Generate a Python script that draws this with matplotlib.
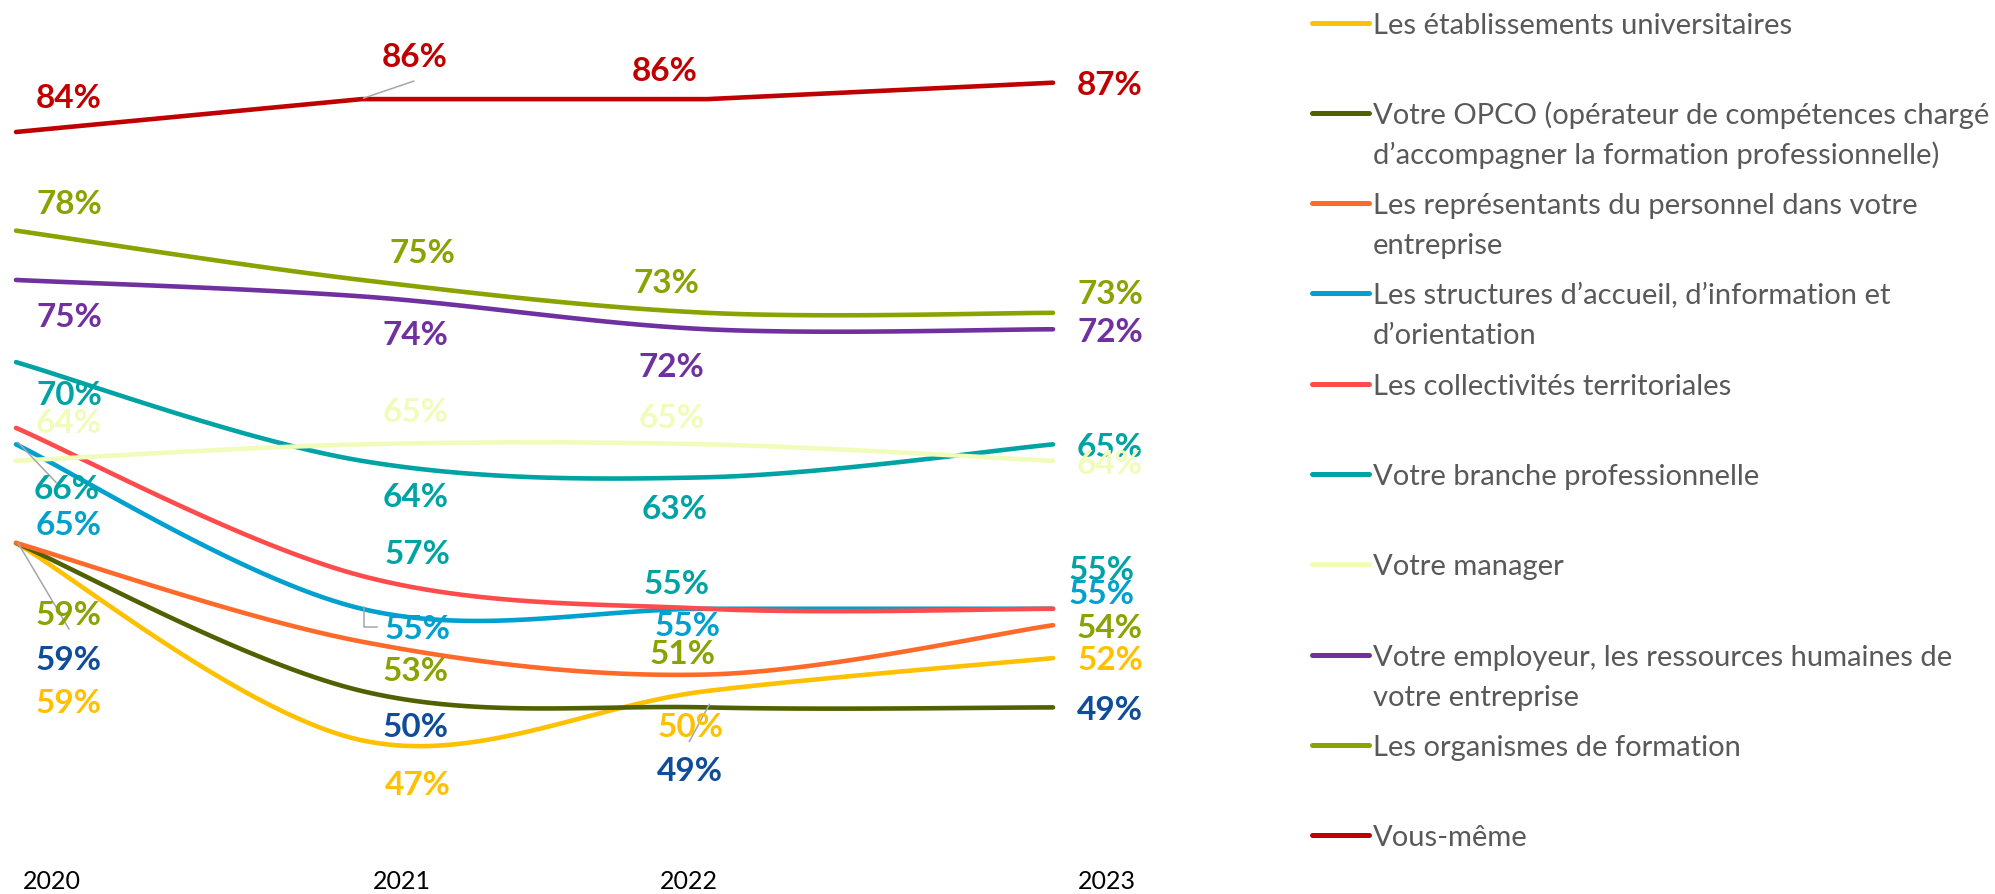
import numpy as np
import matplotlib.pyplot as plt
from matplotlib.lines import Line2D

plt.rcParams['font.family'] = ['Lato', 'DejaVu Sans']

years = ["2020", "2021", "2022", "2023"]

series_names = [
    "Les établissements universitaires",
    "Votre OPCO (opérateur de compétences chargé\nd’accompagner la formation professionnelle)",
    "Les représentants du personnel dans votre\nentreprise",
    "Les structures d’accueil, d’information et\nd’orientation",
    "Les collectivités territoriales",
    "Votre branche professionnelle",
    "Votre manager",
    "Votre employeur, les ressources humaines de\nvotre entreprise",
    "Les organismes de formation",
    "Vous-même",
]

universitaires = [59, 47, 50, 52]
opco = [59, 50, 49, 49]
representants = [59, 53, 51, 54]
structures = [65, 55, 55, 55]
collectivites = [66, 57, 55, 55]
branche = [70, 64, 63, 65]
manager = [64, 65, 65, 64]
employeur = [75, 74, 72, 72]
organismes = [78, 75, 73, 73]
vous_meme = [84, 86, 86, 87]

values = [universitaires, opco, representants, structures, collectivites,
          branche, manager, employeur, organismes, vous_meme]

line_colors = ["#FFC000", "#4F6100", "#FF6A2A", "#00A0CF", "#FF4B4B",
               "#00A3A3", "#F1FCBA", "#7030A0", "#8AA300", "#C00000"]
# the data labels in the original do not always use the line colour
label_colors = ["#FFC000", "#0F4C9A", "#8AA300", "#00A0CF", "#00A3A3",
                "#00A3A3", "#F1FCBA", "#7030A0", "#8AA300", "#C00000"]
# "Vous-même" is drawn with straight segments, the others are smoothed
smoothed = [True] * 9 + [False]

# label offsets in pixels (dx right, dy down) from each point
label_offsets = [
    [(53, 159), (56, 44), (-17, 36), (57, 1)],
    [(53, 116), (54, 36), (-17, 63), (57, 2)],
    [(53, 71), (54, 29), (-25, -21), (57, 2)],
    [(53, 80), (56, 20), (-20, 17), (49, -15)],
    [(51, 61), (56, -22), (-31, -25), (49, -39)],
    [(53, 32), (54, 36), (-33, 31), (57, 2)],
    [(53, -38), (54, -33), (-36, -27), (57, 3)],
    [(53, 37), (54, 38), (-36, 37), (57, 2)],
    [(53, -27), (61, -27), (-41, -30), (57, -19)],
    [(53, -35), (53, -43), (-43, -29), (57, 2)],
]

# leader lines: (series, point, pixel path from the point)
leaders = [
    (9, 1, [(2, -1), (52, -18)]),
    (3, 0, [(2, -2), (40, 38)]),
    (2, 0, [(2, 0), (53, 86)]),
    (3, 1, [(2, -2), (2, 18), (15, 18)]),
    (1, 2, [(2, -3), (-18, 34)]),
]


def smooth(y, n=40):
    # Catmull-Rom style bezier, like Excel smoothed lines
    x = np.arange(len(y), dtype=float)
    p = np.column_stack([x, np.asarray(y, float)])
    ext = np.vstack([p[0], p, p[-1]])
    out = []
    t = np.linspace(0, 1, n)[:, None]
    for i in range(len(p) - 1):
        p0, p1, p2, p3 = ext[i], ext[i + 1], ext[i + 2], ext[i + 3]
        c1 = p1 + (p2 - p0) / 6
        c2 = p2 - (p3 - p1) / 6
        seg = ((1 - t) ** 3) * p1 + 3 * ((1 - t) ** 2) * t * c1 + 3 * (1 - t) * t ** 2 * c2 + t ** 3 * p2
        out.append(seg if i == 0 else seg[1:])
    out = np.vstack(out)
    return out[:, 0], out[:, 1]


fig = plt.figure(figsize=(19.95, 8.95), dpi=100)
ax = fig.add_axes([0, 0, 1, 1])
ax.set_xlim(-0.0463, 5.725)
ax.set_ylim(37.65, 92.09)
ax.axis("off")

for vals, col, sm in zip(values, line_colors, smoothed):
    if sm:
        xs, ys = smooth(vals)
    else:
        xs, ys = np.arange(len(vals)), vals
    ax.plot(xs, ys, color=col, lw=3.3, solid_capstyle="round", solid_joinstyle="round")

fig.canvas.draw()
to_disp = ax.transData
to_data = ax.transData.inverted()


def shifted(i, v, dx, dy):
    px = to_disp.transform((i, v)) + np.array([dx, -dy])
    return to_data.transform(px)


for s, pt, path in leaders:
    pts = np.array([shifted(pt, values[s][pt], dx, dy) for dx, dy in path])
    ax.plot(pts[:, 0], pts[:, 1], color="#A6A6A6", lw=1.1, zorder=5)

for vals, col, offs in zip(values, label_colors, label_offsets):
    for i, (v, (dx, dy)) in enumerate(zip(vals, offs)):
        ax.annotate(f"{v}%", xy=(i, v), xytext=(dx, -dy), textcoords="offset pixels",
                    ha="center", va="center", color=col, fontsize=24,
                    fontweight="bold", zorder=6)

year_offsets = [36, 40, -18, 54]
for i, (yr, dx) in enumerate(zip(years, year_offsets)):
    ax.annotate(yr, xy=(i, 0), xycoords=("data", "axes fraction"),
                xytext=(dx, 13), textcoords="offset pixels",
                ha="center", va="center", fontsize=18, color="#000000")

# legend, one fixed slot per series
W, H = 1995, 895
for k, (name, col) in enumerate(zip(series_names, line_colors)):
    ym = 23.5 + 90.3 * k
    fig.add_artist(Line2D([1312 / W, 1369 / W], [1 - ym / H, 1 - ym / H],
                          color=col, lw=3.6, solid_capstyle="round"))
    for j, line in enumerate(name.split("\n")):
        fig.text(1373 / W, 1 - (ym + 10 + 40 * j) / H, line, ha="left",
                 va="baseline", fontsize=21, color="#595959")

fig.savefig("out.png", dpi=100)
